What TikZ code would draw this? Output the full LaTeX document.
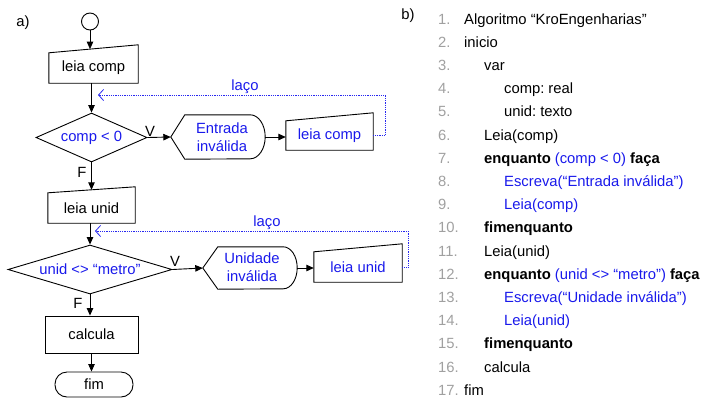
\documentclass[tikz,border=0pt]{standalone}
\usepackage{fontspec}
\setmainfont{Liberation Sans}
\usetikzlibrary{shapes.geometric,arrows.meta,calc}
\definecolor{txtblue}{RGB}{25,25,235}
\definecolor{numgray}{RGB}{160,160,160}
\definecolor{loopblue}{RGB}{40,40,240}
\begin{document}
\begin{tikzpicture}[x=1pt,y=-1pt,
  every node/.style={font=\fontsize{14.8}{17}\selectfont, inner sep=0pt},
  line/.style={line width=0.9pt},
  arr/.style={line width=0.9pt,-{Triangle[length=7.5pt,width=6.5pt]}},
  loopln/.style={loopblue, line width=0.8pt, dash pattern=on 0.9pt off 0.9pt, -{Straight Barb[length=5pt,width=11pt]}},
  bt/.style={text=txtblue},
  lst/.style={anchor=base west},
  two/.style={align=center, text=txtblue, font=\fontsize{14.8}{18.5}\selectfont}
]
\useasboundingbox (0,0) rectangle (703,397);

% labels a) b)
\node (la) at (23,23) {a)};
\node (lb) at (408,16) {b)};

% flowchart nodes
\node[circle,draw,line,minimum size=17pt] (start) at (90,21.5) {};
\node[minimum width=89pt,minimum height=30pt] (in1) at (93.5,68) {leia comp};
\draw[line] (in1.south west) -- (in1.south east) -- ($(in1.north east)+(0,-8)$) -- (in1.north west) -- cycle;

\node[diamond,draw,line,aspect=2.3,minimum width=111pt,minimum height=49pt,bt] (d1) at (91.5,137.5) {comp < 0};

\node[minimum width=94pt,minimum height=44pt] (disp1) at (218,137) {};
\draw[line] (disp1.west) -- ($(disp1.north west)+(14,0)$) -- ($(disp1.north east)+(-15,0)$)
  arc[start angle=90,end angle=-90,x radius=15pt,y radius=22pt] -- ($(disp1.south west)+(14,0)$) -- cycle;
\node[two] (disp1t) at (222,137) {Entrada\\inválida};

\node[minimum width=87pt,minimum height=29pt,bt] (in2) at (329.5,135.5) {leia comp};
\draw[line] (in2.south west) -- (in2.south east) -- ($(in2.north east)+(0,-8)$) -- (in2.north west) -- cycle;

\node[minimum width=87pt,minimum height=30pt] (in3) at (91.5,208) {leia unid};
\draw[line] (in3.south west) -- (in3.south east) -- ($(in3.north east)+(0,-6)$) -- (in3.north west) -- cycle;

\node[diamond,draw,line,aspect=3.3,minimum width=164pt,minimum height=49pt,bt] (d2) at (90,269.5) {unid <> “metro”};

\node[minimum width=94pt,minimum height=42pt] (disp2) at (250,268) {};
\draw[line] (disp2.west) -- ($(disp2.north west)+(15,0)$) -- ($(disp2.north east)+(-14,0)$)
  arc[start angle=90,end angle=-90,x radius=14pt,y radius=21pt] -- ($(disp2.south west)+(15,0)$) -- cycle;
\node[two] (disp2t) at (252,267) {Unidade\\inválida};

\node[minimum width=88pt,minimum height=30pt,bt] (in4) at (358,267) {leia unid};
\draw[line] (in4.south west) -- (in4.south east) -- ($(in4.north east)+(0,-8)$) -- (in4.north west) -- cycle;

\node[draw,line,minimum width=93pt,minimum height=37pt] (calc) at (91.5,334.5) {calcula};
\node[draw,line,rounded corners=12pt,minimum width=78pt,minimum height=25pt] (fim) at (94,384.5) {fim};

% connectors
\draw[arr,shorten >=3.7pt] (start.south) -- (start.south |- in1.north);
\draw[arr] (d1.north |- in1.south) -- (d1.north);
\draw[arr] (d1.east) -- (disp1.west);
\draw[arr] (disp1.east) -- (disp1.east -| in2.west);
\draw[arr,shorten >=3pt] (d1.south) -- (d1.south |- in3.north);
\draw[arr] (d2.north |- in3.south) -- (d2.north);
\draw[arr] (d2.east) -- (disp2.west);
\draw[arr] (disp2.east) -- (disp2.east -| in4.west);
\draw[arr] (d2.south) -- (d2.south |- calc.north);
\draw[arr] (calc.south) -- (calc.south |- fim.north);

\node (v1) at (150,131) {V};
\node (f1) at (82,172) {F};
\node (v2) at (175,261) {V};
\node (f2) at (78,303) {F};

% loops
\coordinate (lp1) at (98,95);
\draw[loopln] (in2.east) -- ++(12,0) |- (lp1);
\node[bt] (laco1) at (245,87) {laço};
\coordinate (lp2) at (95,231);
\draw[loopln] (in4.east) -- ++(6,0) |- (lp2);
\node[bt] (laco2) at (267,223) {laço};

% listing
\foreach \n in {1,...,17} {
  \node[lst,text=numgray] (n\n) at (438,{24+(\n-1)*23.2}) {\n.};
}
\def\yl#1{{24+(#1-1)*23.2}}
\node[lst] (t1) at (464,\yl{1}) {Algoritmo “KroEngenharias”};
\node[lst] (t2) at (464,\yl{2}) {inicio};
\node[lst] (t3) at (484,\yl{3}) {var};
\node[lst] (t4) at (504,\yl{4}) {comp:\hspace{-1.5pt} real};
\node[lst] (t5) at (504,\yl{5}) {unid:\hspace{-1.5pt} texto};
\node[lst] (t6) at (484,\yl{6}) {Leia(comp)};
\node[lst] (t7) at (484,\yl{7}) {\textbf{enquanto} {\color{txtblue}(comp < 0)} \textbf{faça}};
\node[lst,bt] (t8) at (504,\yl{8}) {Escreva(“Entrada inválida”)};
\node[lst,bt] (t9) at (504,\yl{9}) {Leia(comp)};
\node[lst] (t10) at (484,\yl{10}) {\textbf{fimenquanto}};
\node[lst] (t11) at (484,\yl{11}) {Leia(unid)};
\node[lst] (t12) at (484,\yl{12}) {\textbf{enquanto} {\color{txtblue}(unid <> “metro”)} \textbf{faça}};
\node[lst,bt] (t13) at (504,\yl{13}) {Escreva(“Unidade inválida”)};
\node[lst,bt] (t14) at (504,\yl{14}) {Leia(unid)};
\node[lst] (t15) at (484,\yl{15}) {\textbf{fimenquanto}};
\node[lst] (t16) at (484,\yl{16}) {calcula};
\node[lst] (t17) at (464,\yl{17}) {fim};
\end{tikzpicture}
\end{document}
